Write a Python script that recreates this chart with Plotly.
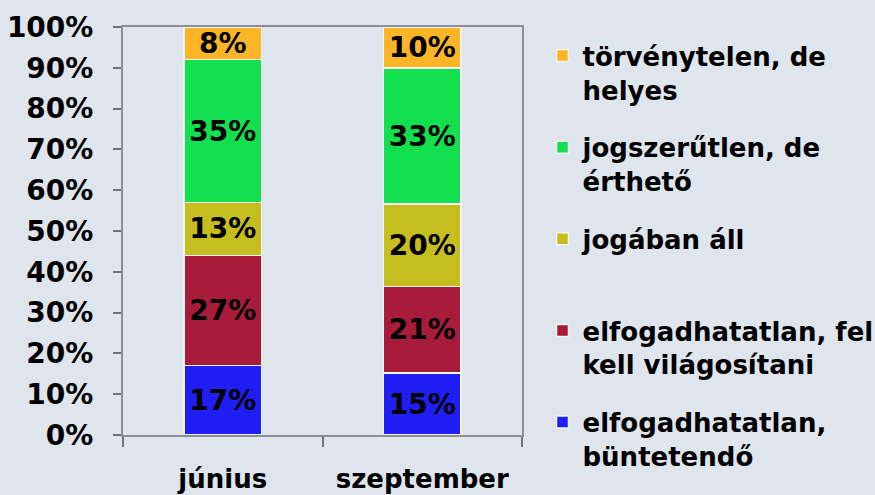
import plotly.graph_objects as go

# Data
months = ["június", "szeptember"]
series_names = [
    "elfogadhatatlan,<br>büntetendő",
    "elfogadhatatlan, fel<br>kell világosítani",
    "jogában áll<br> ",
    "jogszerűtlen, de<br>érthető",
    "törvénytelen, de<br>helyes",
]
buntetendo = [17, 15]
felvilagositani = [27, 21]
jogaban_all = [13, 20]
ertheto = [35, 33]
helyes = [8, 10]

colors = ["#1F1FF5", "#A91B3B", "#C6BE1E", "#12E04E", "#FCB527"]
BG = "#DFE5EC"
FONT = "DejaVu Sans"

fig = go.Figure()
all_values = [buntetendo, felvilagositani, jogaban_all, ertheto, helyes]
for i, (name, values) in enumerate(zip(series_names, all_values)):
    fig.add_trace(
        go.Bar(
            x=months,
            y=values,
            name=name,
            legendgroup=str(i),
            legendrank=1000 - i,
            marker=dict(color=colors[i], line=dict(color="#F4F4F8", width=1.5)),
            text=[f"{v}%" for v in values],
            textposition="inside",
            insidetextanchor="middle",
            constraintext="none",
            textfont=dict(family=FONT, size=28, color="black", weight="bold"),
        )
    )

fig.update_layout(
    width=875,
    height=495,
    barmode="stack",
    barnorm="percent",
    bargap=0.61,
    paper_bgcolor=BG,
    plot_bgcolor=BG,
    font=dict(family=FONT, color="black", weight="bold"),
    margin=dict(l=123, r=353, t=27, b=60, autoexpand=False),
    legend=dict(
        xref="container",
        yref="container",
        x=0.62,
        y=0.935,
        xanchor="left",
        yanchor="top",
        valign="top",
        maxheight=490,
        font=dict(size=26, family=FONT, color="black", weight="bold"),
        tracegroupgap=21,
        bgcolor="rgba(0,0,0,0)",
    ),
    xaxis=dict(
        automargin=False,
        showline=True,
        linecolor="#8A8F96",
        linewidth=2,
        mirror=True,
        ticks="outside",
        tickson="boundaries",
        ticklen=10,
        tickcolor="#6E737A",
        tickwidth=2,
        ticklabelstandoff=20,
        tickfont=dict(size=26, family=FONT, weight="bold"),
    ),
    yaxis=dict(
        automargin=False,
        range=[0, 100],
        dtick=10,
        ticksuffix="%",
        showgrid=False,
        zeroline=False,
        showline=True,
        linecolor="#8A8F96",
        linewidth=2,
        mirror=True,
        ticks="outside",
        ticklen=8,
        tickcolor="#6E737A",
        tickwidth=2,
        ticklabelstandoff=14,
        tickfont=dict(size=28, family=FONT, weight="bold"),
    ),
)

# drop the browser's default 8px body margin so the figure fills the window
fig.write_html(
    "out.html",
    config={"displayModeBar": False},
    post_script=f"document.body.style.margin='0';document.body.style.background='{BG}';",
)
